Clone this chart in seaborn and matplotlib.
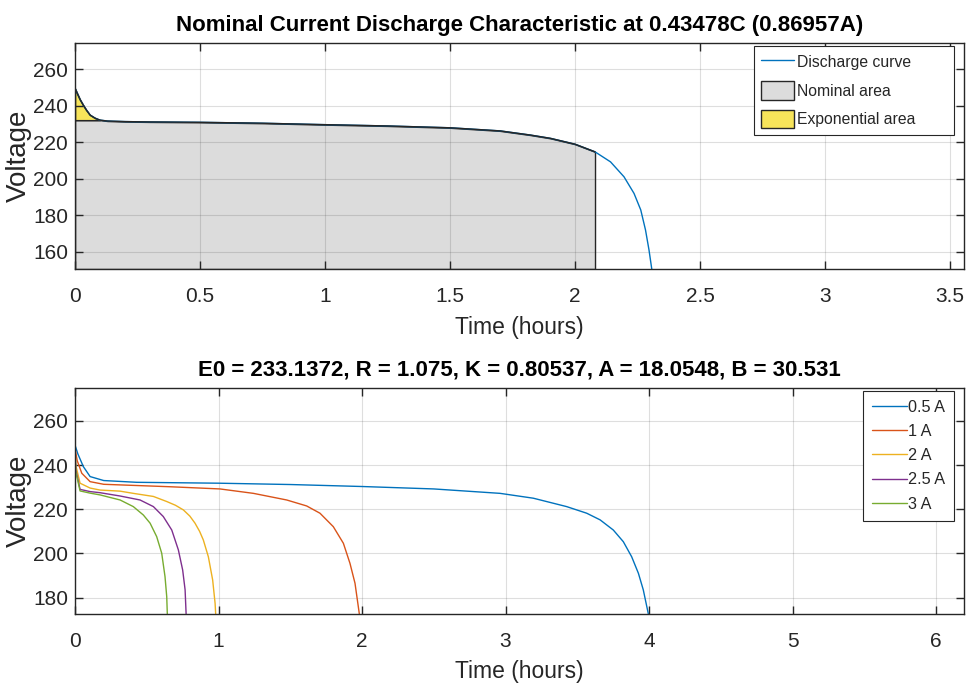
import matplotlib
matplotlib.use('Agg')
import numpy as np
import matplotlib.pyplot as plt
import seaborn as sns
from matplotlib.patches import Patch
from matplotlib.lines import Line2D

# 放电曲线数据
t_nominal = [0, 0.01, 0.02, 0.033, 0.045, 0.06, 0.08, 0.1, 0.13, 0.2, 0.3, 0.5, 0.75, 0.97,
             1.25, 1.5, 1.7, 1.822, 1.902, 2.0, 2.08, 2.142, 2.196, 2.236, 2.263, 2.282, 2.296, 2.307]
v_nominal = [249.6, 246.5, 243.5, 240.4, 237.8, 235.0, 233.3, 232.2, 231.7, 231.4, 231.2, 231.0, 230.5, 229.8,
             229.0, 228.0, 226.3, 224.0, 222.2, 219.0, 214.8, 209.3, 201.1, 192.0, 182.9, 171.9, 160.9, 150.5]
t_nominal_end = 2.08      # 额定区结束
v_exp_level = 232.2       # 指数区下边界
t_exp_end = 0.1

currents = ['0.5 A', '1 A', '2 A', '2.5 A', '3 A']
t_05 = [0, 0.02, 0.058, 0.105, 0.2, 0.43, 1.0, 1.5, 2.0, 2.5, 2.962, 3.194, 3.426, 3.566, 3.659,
        3.751, 3.821, 3.879, 3.926, 3.96, 3.995]
v_05 = [249, 245, 239.3, 234.8, 233, 232.2, 231.8, 231.2, 230.3, 229.2, 227.2, 225.0, 221.2, 218.2, 215.2,
        210.6, 205.3, 198.5, 191.0, 183.5, 172.7]
t_1 = [0, 0.015, 0.047, 0.105, 0.2, 0.66, 1.01, 1.243, 1.475, 1.614, 1.707, 1.8, 1.87, 1.916, 1.951, 1.981]
v_1 = [247.5, 242, 236.3, 232.5, 231.3, 230.2, 229.2, 227.2, 224.2, 221.5, 218.2, 212.1, 204.6, 195.5, 186.5, 172.7]
t_2 = [0, 0.005, 0.035, 0.105, 0.174, 0.314, 0.406, 0.546, 0.639, 0.7, 0.755, 0.8, 0.836, 0.868,
       0.894, 0.929, 0.959, 0.976, 0.98]
v_2 = [248, 240, 231.8, 229.6, 228.7, 228.2, 227.2, 225.8, 223.5, 221.8, 219.7, 216.9, 213.7, 210.0,
       206.1, 198.5, 188.0, 177.4, 172.7]
t_25 = [0, 0.005, 0.035, 0.105, 0.174, 0.314, 0.453, 0.546, 0.615, 0.674, 0.72, 0.75, 0.767, 0.774]
v_25 = [248, 238, 229, 228, 227.5, 226.0, 224.2, 221.2, 216.7, 210.6, 201.6, 192.5, 183.5, 172.7]
t_3 = [0, 0.005, 0.035, 0.105, 0.174, 0.314, 0.406, 0.476, 0.523, 0.569, 0.604, 0.627, 0.639, 0.643]
v_3 = [248, 237, 228.3, 227.3, 226.5, 224.2, 221.2, 217.4, 213.7, 207.6, 200.1, 189.5, 180.4, 172.7]

top_xticks = [0, 0.5, 1, 1.5, 2, 2.5, 3, 3.5]
top_yticks = [160, 180, 200, 220, 240, 260]
bot_xticks = [0, 1, 2, 3, 4, 5, 6]
bot_yticks = [180, 200, 220, 240, 260]

title_top = 'Nominal Current Discharge Characteristic at 0.43478C (0.86957A)'
title_bot = 'E0 = 233.1372, R = 1.075, K = 0.80537, A = 18.0548, B = 30.531'

colors = ['#0072BD', '#D95319', '#EDB120', '#7E2F8E', '#77AC30']
gray_fill = '#dcdcdc'
yellow_fill = '#f7e45a'
dark = '#262626'

# 样式
sns.set_theme(style='whitegrid')
plt.rcParams['font.family'] = ['Liberation Sans', 'DejaVu Sans']
plt.rcParams.update({
    'axes.edgecolor': dark, 'axes.linewidth': 1.0,
    'grid.color': (0.15, 0.15, 0.15, 0.15), 'grid.linewidth': 0.8,
    'xtick.bottom': True, 'xtick.top': True, 'ytick.left': True, 'ytick.right': True,
    'xtick.direction': 'in', 'ytick.direction': 'in',
    'xtick.major.size': 6, 'ytick.major.size': 6,
    'xtick.major.width': 1.0, 'ytick.major.width': 1.0,
    'xtick.color': dark, 'ytick.color': dark,
    'xtick.labelcolor': dark, 'ytick.labelcolor': dark,
    'axes.labelcolor': dark,
})

fig = plt.figure(figsize=(9.67, 6.93), dpi=100)
ax1 = fig.add_axes([0.0776, 0.6118, 0.9193, 0.3261])
ax2 = fig.add_axes([0.0776, 0.1144, 0.9193, 0.3257])

# 上图
sns.lineplot(x=t_nominal, y=v_nominal, ax=ax1, color=colors[0], lw=1.0, sort=False,
             estimator=None, zorder=3)
t = np.array(t_nominal)
v = np.array(v_nominal)
y_low = 150.5
m = t <= t_nominal_end
ax1.fill_between(t[m], y_low, np.minimum(v[m], v_exp_level), facecolor=gray_fill,
                 edgecolor=dark, lw=1.0, zorder=1)
m2 = t <= t_exp_end
ax1.fill_between(t[m2], v_exp_level, v[m2], facecolor=yellow_fill, edgecolor=dark, lw=1.0, zorder=1)
ax1.plot(t[m], v[m], color=dark, lw=1.0, zorder=3.5)
ax1.set_xlim(0, 3.556)
ax1.set_ylim(y_low, 274.5)
ax1.set_xticks(top_xticks)
ax1.set_xticklabels([f'{x:g}' for x in top_xticks])
ax1.set_yticks(top_yticks)
ax1.set_title(title_top, fontsize=16, fontweight='bold', pad=9, color='black')
ax1.set_xlabel('Time (hours)', fontsize=16.5, labelpad=7)
ax1.set_ylabel('Voltage', fontsize=20, labelpad=1)
handles = [Line2D([], [], color=colors[0], lw=1.0),
           Patch(facecolor=gray_fill, edgecolor=dark, lw=1.0),
           Patch(facecolor=yellow_fill, edgecolor=dark, lw=1.0)]
leg = ax1.legend(handles, ['Discharge curve', 'Nominal area', 'Exponential area'],
                 loc='upper left', bbox_to_anchor=(0.7638, 0.5, 0.225, 0.488), mode='expand',
                 borderaxespad=0, fontsize=11.3, frameon=True, fancybox=False, framealpha=1,
                 edgecolor=dark, handlelength=2.1, handleheight=1.45, handletextpad=0.2,
                 labelspacing=0.62, borderpad=0.45)
leg.get_frame().set_linewidth(0.8)

# 下图
series = [(t_05, v_05), (t_1, v_1), (t_2, v_2), (t_25, v_25), (t_3, v_3)]
for (tt, vv), lab, c in zip(series, currents, colors):
    sns.lineplot(x=tt, y=vv, ax=ax2, color=c, lw=1.0, sort=False, estimator=None,
                 label=lab, zorder=3)
ax2.set_xlim(0, 6.195)
ax2.set_ylim(172.7, 274.9)
ax2.set_xticks(bot_xticks)
ax2.set_yticks(bot_yticks)
ax2.set_title(title_bot, fontsize=16, fontweight='bold', pad=9, color='black')
ax2.set_xlabel('Time (hours)', fontsize=16.5, labelpad=7)
ax2.set_ylabel('Voltage', fontsize=20, labelpad=1)
leg2 = ax2.legend(loc='upper right', bbox_to_anchor=(0.989, 0.988), borderaxespad=0,
                  fontsize=11.7, frameon=True, fancybox=False, framealpha=1, edgecolor=dark,
                  handlelength=2.15, handletextpad=0.1, labelspacing=0.57, borderpad=0.55)
leg2.get_frame().set_linewidth(0.8)

for ax in (ax1, ax2):
    ax.set_axisbelow(False)
    ax.grid(True, zorder=2)
    ax.tick_params(axis='x', labelsize=15, pad=13)
    ax.tick_params(axis='y', labelsize=15, pad=5)
    for s in ax.spines.values():
        s.set_zorder(4)

plt.savefig('out.png', dpi=100)
plt.close()
